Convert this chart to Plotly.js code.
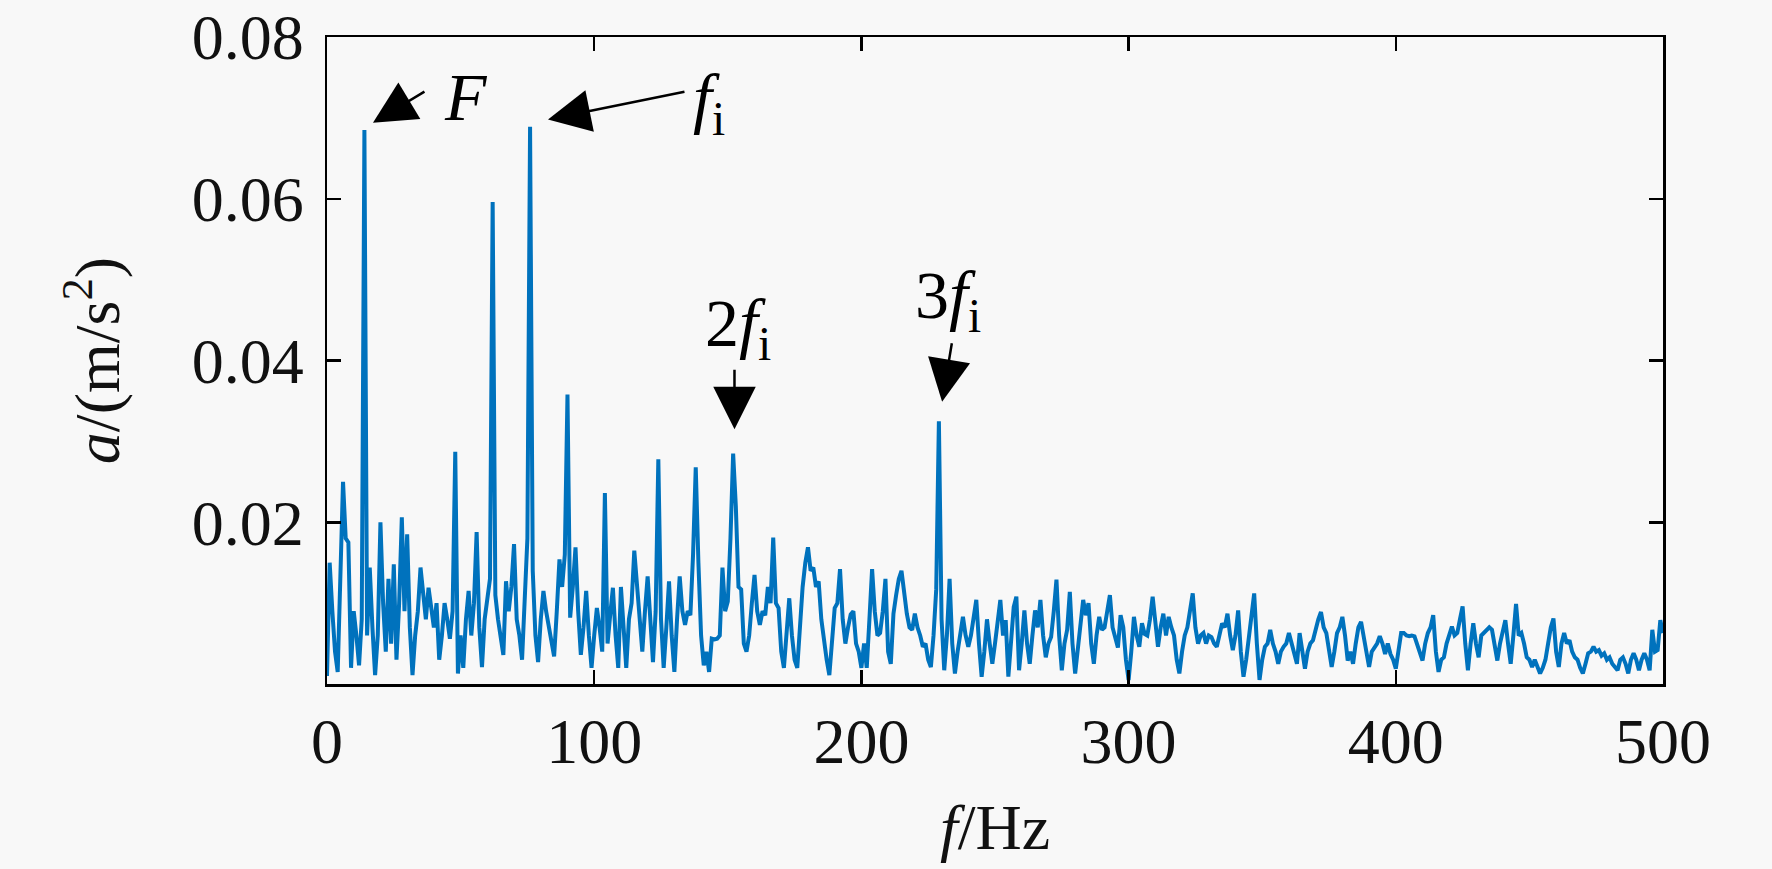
<!DOCTYPE html>
<html>
<head>
<meta charset="utf-8">
<script src="https://cdn.plot.ly/plotly-3.0.1.min.js"></script>
<style>
  html, body { margin: 0; padding: 0; background: #f8f8f8; }
  #chart { width: 1772px; height: 869px; }
</style>
</head>
<body>
<div id="chart"></div>
<script>
// spectrum amplitude a (m/s^2), one value per Hz
const amp000 = [
  0.001, 0.015, 0.009, 0.004, 0.0015, 0.012, 0.025, 0.018, 0.0175, 0.002,
  0.009, 0.006, 0.0023, 0.008, 0.0685, 0.006, 0.0144, 0.007, 0.0011, 0.006,
  0.020, 0.010, 0.004, 0.013, 0.005, 0.0148, 0.003, 0.010, 0.0206, 0.009,
  0.0185, 0.007, 0.0011, 0.006, 0.009, 0.0144, 0.011, 0.008, 0.0119, 0.009,
  0.007, 0.010, 0.003, 0.006, 0.010, 0.008, 0.0056, 0.009, 0.0287, 0.0013,
  0.006, 0.002, 0.008, 0.0115, 0.006, 0.010, 0.0188, 0.007, 0.0021, 0.008,
  0.011, 0.013, 0.0596, 0.011, 0.008, 0.006, 0.0036, 0.0127, 0.009, 0.012,
  0.0173, 0.008, 0.006, 0.003, 0.012, 0.018, 0.0689, 0.014, 0.006, 0.0027,
  0.008, 0.0115, 0.009, 0.007, 0.005, 0.0034, 0.009, 0.0154, 0.012, 0.016,
  0.0358, 0.0082, 0.012, 0.0169, 0.009, 0.0036, 0.007, 0.0115, 0.006, 0.002
];
const amp100 = [
  0.006, 0.0094, 0.007, 0.004, 0.0236, 0.005, 0.0086, 0.0119, 0.006, 0.002,
  0.012, 0.007, 0.002, 0.008, 0.010, 0.0165, 0.012, 0.008, 0.004, 0.009,
  0.0133, 0.008, 0.0027, 0.009, 0.0278, 0.008, 0.002, 0.007, 0.0127, 0.006,
  0.0015, 0.008, 0.0133, 0.009, 0.0073, 0.009, 0.0085, 0.016, 0.0268, 0.015,
  0.006, 0.0023, 0.004, 0.0015, 0.0056, 0.0055, 0.0056, 0.006, 0.0144, 0.009,
  0.0102, 0.018, 0.0285, 0.022, 0.012, 0.0117, 0.005, 0.004, 0.006, 0.010,
  0.0135, 0.009, 0.0073, 0.009, 0.0085, 0.012, 0.010, 0.0181, 0.010, 0.0094,
  0.004, 0.002, 0.007, 0.0106, 0.006, 0.003, 0.002, 0.008, 0.012, 0.015,
  0.0169, 0.014, 0.0144, 0.012, 0.0127, 0.008, 0.005, 0.003, 0.0011, 0.006,
  0.0094, 0.010, 0.0142, 0.008, 0.005, 0.007, 0.0086, 0.009, 0.005, 0.004
];
const amp200 = [
  0.002, 0.005, 0.002, 0.008, 0.0142, 0.009, 0.006, 0.0063, 0.009, 0.013,
  0.004, 0.0025, 0.0087, 0.011, 0.013, 0.014, 0.011, 0.0087, 0.007, 0.0067,
  0.0087, 0.007, 0.006, 0.0046, 0.005, 0.003, 0.0021, 0.006, 0.0117, 0.0325,
  0.008, 0.0017, 0.006, 0.013, 0.005, 0.0013, 0.004, 0.006, 0.0083, 0.006,
  0.0046, 0.006, 0.0087, 0.0104, 0.005, 0.0009, 0.004, 0.008, 0.005, 0.0025,
  0.005, 0.008, 0.0104, 0.006, 0.0079, 0.0009, 0.005, 0.0095, 0.0108, 0.0017,
  0.005, 0.0091, 0.005, 0.0025, 0.006, 0.0091, 0.007, 0.0104, 0.006, 0.0033,
  0.005, 0.0058, 0.009, 0.0129, 0.006, 0.0017, 0.005, 0.0067, 0.0114, 0.005,
  0.0013, 0.0046, 0.008, 0.0104, 0.0085, 0.010, 0.005, 0.0025, 0.006, 0.0083,
  0.0067, 0.007, 0.009, 0.011, 0.007, 0.0058, 0.0045, 0.0085, 0.007, 0.003
];
const amp300 = [
  0.0005, 0.004, 0.0083, 0.006, 0.0046, 0.0075, 0.0062, 0.006, 0.008, 0.0108,
  0.007, 0.0046, 0.007, 0.0087, 0.006, 0.0083, 0.007, 0.006, 0.003, 0.0013,
  0.004, 0.006, 0.007, 0.009, 0.0112, 0.007, 0.005, 0.006, 0.0063, 0.005,
  0.006, 0.0058, 0.005, 0.0046, 0.006, 0.0075, 0.007, 0.0087, 0.006, 0.0042,
  0.006, 0.0091, 0.004, 0.0009, 0.003, 0.0058, 0.008, 0.0112, 0.005, 0.0005,
  0.003, 0.0046, 0.005, 0.0067, 0.005, 0.004, 0.0025, 0.004, 0.0046, 0.005,
  0.0063, 0.005, 0.004, 0.0025, 0.0063, 0.004, 0.0019, 0.004, 0.005, 0.0054,
  0.007, 0.008, 0.0089, 0.007, 0.0063, 0.004, 0.0021, 0.004, 0.0063, 0.007,
  0.0083, 0.006, 0.0029, 0.004, 0.0025, 0.005, 0.007, 0.0077, 0.006, 0.004,
  0.0021, 0.004, 0.0046, 0.005, 0.0059, 0.005, 0.0037, 0.005, 0.0037, 0.003
];
const amp400 = [
  0.0019, 0.004, 0.0063, 0.0063, 0.006, 0.0059, 0.006, 0.0059, 0.005, 0.004,
  0.0029, 0.005, 0.0063, 0.007, 0.0085, 0.004, 0.0015, 0.003, 0.0033, 0.005,
  0.006, 0.0071, 0.006, 0.0063, 0.008, 0.0096, 0.005, 0.0017, 0.005, 0.0075,
  0.005, 0.0033, 0.006, 0.0063, 0.0066, 0.007, 0.0067, 0.005, 0.0029, 0.005,
  0.0063, 0.0079, 0.005, 0.0025, 0.006, 0.0099, 0.006, 0.0063, 0.005, 0.0033,
  0.003, 0.0021, 0.003, 0.002, 0.0013, 0.002, 0.003, 0.005, 0.007, 0.0081,
  0.004, 0.0021, 0.005, 0.0063, 0.005, 0.0054, 0.004, 0.0033, 0.003, 0.002,
  0.0013, 0.0025, 0.0038, 0.004, 0.0046, 0.004, 0.0042, 0.0035, 0.0038, 0.003,
  0.0033, 0.0025, 0.002, 0.0017, 0.003, 0.0033, 0.0025, 0.0013, 0.003, 0.0038,
  0.003, 0.0017, 0.003, 0.0038, 0.003, 0.0017, 0.0067, 0.004, 0.0042, 0.0079,
  0.0063
];
const amplitude = [].concat(amp000, amp100, amp200, amp300, amp400);

const xTicks = [0, 100, 200, 300, 400, 500];
const yTicks = [0.02, 0.04, 0.06, 0.08];
const yTickText = ['0.02', '0.04', '0.06', '0.08'];

// peak labels: text, label position, arrow head position, arrow tail offset (px)
const peakLabels = ['<i>F</i>', '<i>f</i><sub>i</sub>', '2<i>f</i><sub>i</sub>', '3<i>f</i><sub>i</sub>'];
const labelX = [52, 143, 154, 232.5];
const labelY = [0.0726, 0.0719, 0.0441, 0.0475];
const headX = [17.2, 82.7, 152.5, 230.2];
const headY = [0.0694, 0.0698, 0.0315, 0.0349];
const tailDX = [53, 138, 0, 10];
const tailDY = [-32, -28, -61, -60];

const serif = 'Times New Roman';

const trace = {
  y: amplitude,
  x0: 0,
  dx: 1,
  type: 'scatter',
  mode: 'lines',
  line: { color: '#0072BD', width: 4 },
  hoverinfo: 'skip'
};

const annotations = [];
peakLabels.forEach(function (t, i) {
  annotations.push({
    x: headX[i], y: headY[i], xref: 'x', yref: 'y',
    ax: tailDX[i], ay: tailDY[i],
    text: '', showarrow: true,
    arrowhead: 2, arrowsize: 3.4, arrowwidth: 2.5, arrowcolor: '#000'
  });
  annotations.push({
    x: labelX[i], y: labelY[i], xref: 'x', yref: 'y',
    text: t, showarrow: false,
    font: { family: serif, size: 68, color: '#000' }
  });
});

const axisCommon = {
  showgrid: false,
  zeroline: false,
  showline: true,
  linecolor: '#000',
  linewidth: 2.5,
  mirror: 'ticks',
  ticks: 'inside',
  ticklen: 14,
  tickwidth: 2.5,
  tickcolor: '#000',
  tickfont: { family: serif, size: 64, color: '#111' },
  fixedrange: true
};

const layout = {
  width: 1772,
  height: 869,
  paper_bgcolor: '#f8f8f8',
  plot_bgcolor: '#f8f8f8',
  margin: { l: 327, r: 109, t: 37, b: 185 },
  showlegend: false,
  xaxis: Object.assign({}, axisCommon, {
    range: [0, 500],
    tickvals: xTicks,
    ticklabelstandoff: 0,
    title: { text: '<i>f</i>/Hz', font: { family: serif, size: 64, color: '#111' }, standoff: 28 }
  }),
  yaxis: Object.assign({}, axisCommon, {
    range: [0, 0.08],
    tickvals: yTicks,
    ticktext: yTickText,
    ticklabelstandoff: 8,
    title: { text: '<i>a</i>/(m/s<sup>2</sup>)', font: { family: serif, size: 64, color: '#111' }, standoff: 52 }
  }),
  annotations: annotations
};

Plotly.newPlot('chart', [trace], layout, { displayModeBar: false, staticPlot: true });
</script>
</body>
</html>
